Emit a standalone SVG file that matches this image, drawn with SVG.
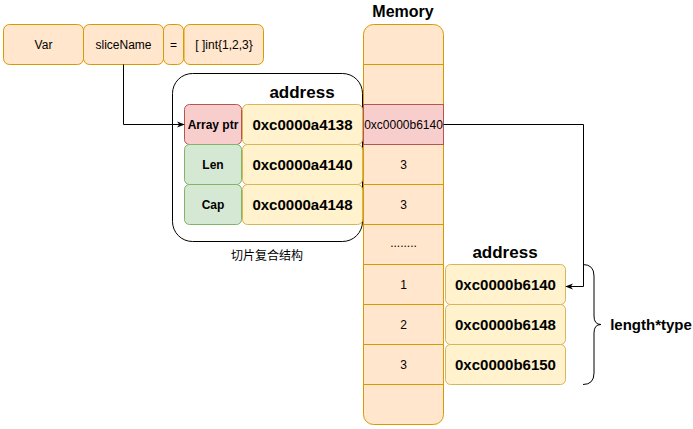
<svg xmlns="http://www.w3.org/2000/svg" width="693" height="429" viewBox="0 0 693 429">
<defs>
<style>
text{font-family:"Liberation Sans",Arial,"Noto Sans CJK SC",sans-serif;text-anchor:middle;fill:#000}
.o{fill:#ffe6cc;stroke:#d79b00;stroke-width:1}
.y{fill:#fff2cc;stroke:#d6b656;stroke-width:1}
.g{fill:#d5e8d4;stroke:#82b366;stroke-width:1}
.r{fill:#f8cecc;stroke:#b85450;stroke-width:1}
.t12{font-size:12px}
.b12{font-size:12px;font-weight:bold}
.b15{font-size:15px;font-weight:bold}
.b16{font-size:16px;font-weight:bold}
.b17{font-size:17px;font-weight:bold}
.ln{fill:none;stroke:#000;stroke-width:1}
</style>
<marker id="ar" viewBox="0 0 10 10" refX="9" refY="5" markerWidth="8" markerHeight="8" orient="auto" markerUnits="userSpaceOnUse">
<path d="M0,1 L10,5 L0,9 L3,5 Z" fill="#000"/>
</marker>
</defs>
<rect width="693" height="429" fill="#fff"/>

<g id="var"><rect class="o" x="3.5" y="24.5" width="80" height="40" rx="6"/><text class="t12" x="43.5" y="48.5">Var</text></g>
<g id="sliceName"><rect class="o" x="83.5" y="24.5" width="80" height="40" rx="6"/><text class="t12" x="123.5" y="48.5">sliceName</text></g>
<g id="eq"><rect class="o" x="163.5" y="24.5" width="20" height="40" rx="6"/><text class="t12" x="173.5" y="48.5">=</text></g>
<g id="literal"><rect class="o" x="184" y="24.5" width="79.5" height="40" rx="6"/><text class="t12" x="224" y="48.5">[ ]int{1,2,3}</text></g>

<g id="slice-struct">
<rect x="172.5" y="73.5" width="190" height="168" rx="20" fill="#fff" stroke="#000"/>
<text class="b17" x="302" y="98">address</text>
<text class="t12" x="267" y="260">切片复合结构</text>
</g>
<g id="array-ptr"><rect class="r" x="184.5" y="104.5" width="57" height="40" rx="5"/><text class="b12" x="213" y="128.5">Array ptr</text></g>
<g id="len"><rect class="g" x="184.5" y="144.5" width="57" height="40" rx="5"/><text class="b12" x="213" y="168.5">Len</text></g>
<g id="cap"><rect class="g" x="184.5" y="184.5" width="57" height="40" rx="5"/><text class="b12" x="213" y="208.5">Cap</text></g>
<g id="addr1"><rect class="y" x="242.5" y="104.5" width="120" height="40" rx="5"/><text class="b15" x="302.5" y="130">0xc0000a4138</text></g>
<g id="addr2"><rect class="y" x="242.5" y="144.5" width="120" height="40" rx="5"/><text class="b15" x="302.5" y="170">0xc0000a4140</text></g>
<g id="addr3"><rect class="y" x="242.5" y="184.5" width="120" height="40" rx="5"/><text class="b15" x="302.5" y="210">0xc0000a4148</text></g>

<g id="memory">
<text class="b16" x="403" y="17">Memory</text>
<rect class="o" x="363.5" y="24.5" width="80" height="400" rx="10"/>
<rect class="r" x="363.5" y="104.5" width="80" height="40"/>
<g stroke="#d79b00">
<line x1="363.5" y1="64.5" x2="443.5" y2="64.5"/>
<line x1="363.5" y1="184.5" x2="443.5" y2="184.5"/>
<line x1="363.5" y1="224.5" x2="443.5" y2="224.5"/>
<line x1="363.5" y1="264.5" x2="443.5" y2="264.5"/>
<line x1="363.5" y1="304.5" x2="443.5" y2="304.5"/>
<line x1="363.5" y1="344.5" x2="443.5" y2="344.5"/>
<line x1="363.5" y1="384.5" x2="443.5" y2="384.5"/>
</g>
<text class="t12" x="403.5" y="128.5">0xc0000b6140</text>
<text class="t12" x="403.5" y="168.5">3</text>
<text class="t12" x="403.5" y="208.5">3</text>
<text class="t12" x="403.5" y="247">........</text>
<text class="t12" x="403.5" y="288.5">1</text>
<text class="t12" x="403.5" y="328.5">2</text>
<text class="t12" x="403.5" y="368.5">3</text>
</g>

<g id="array">
<text class="b17" x="505" y="258">address</text>
<g id="b1"><rect class="y" x="445.5" y="264.5" width="120" height="40" rx="5"/><text class="b15" x="505.5" y="290">0xc0000b6140</text></g>
<g id="b2"><rect class="y" x="445.5" y="304.5" width="120" height="40" rx="5"/><text class="b15" x="505.5" y="330">0xc0000b6148</text></g>
<g id="b3"><rect class="y" x="445.5" y="344.5" width="120" height="40" rx="5"/><text class="b15" x="505.5" y="370">0xc0000b6150</text></g>
</g>

<g id="brace">
<path class="ln" d="M583,264.5 Q594,264.5 594,276 L594,316 Q594,324.5 601,324.5 Q594,324.5 594,333 L594,373 Q594,384.5 583,384.5"/>
<text class="b15" x="651" y="330">length*type</text>
</g>

<g id="connectors">
<path class="ln" d="M123.5,64.5 L123.5,124.5 L184,124.5" marker-end="url(#ar)"/>
<path class="ln" d="M443.5,124.5 L583.5,124.5 L583.5,286.5 L566,286.5" marker-end="url(#ar)"/>
</g>
</svg>
